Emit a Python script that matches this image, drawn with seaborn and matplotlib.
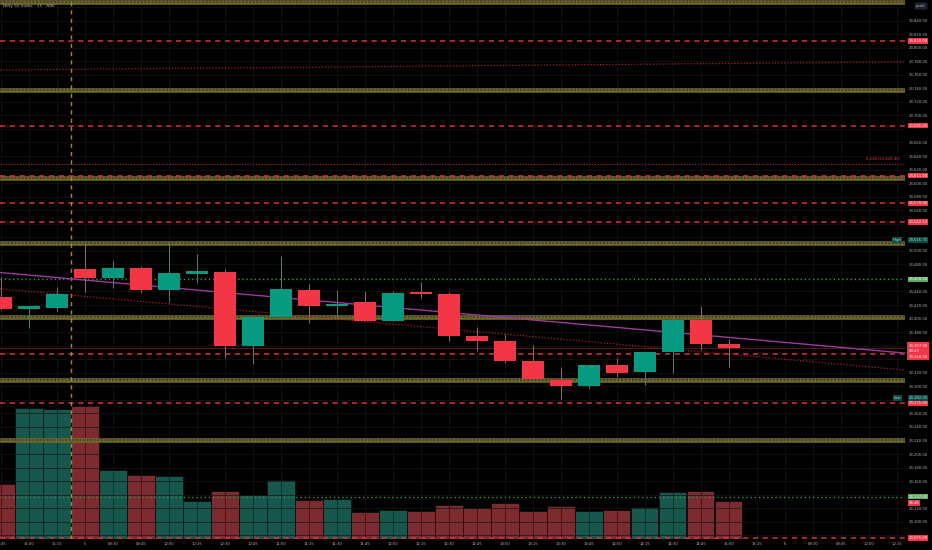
import numpy as np
import pandas as pd
import matplotlib
matplotlib.use("Agg")
import matplotlib.pyplot as plt
import seaborn as sns
from matplotlib.transforms import blended_transform_factory

# 15 min candles, Nifty 50
times = ["14:45", "15:00", "15:15", "5", "09:30", "09:45", "10:00", "10:15", "10:30",
         "10:45", "11:00", "11:15", "11:30", "11:45", "12:00", "12:15", "12:30", "12:45",
         "13:00", "13:15", "13:30", "13:45", "14:00", "14:15", "14:30", "14:45", "15:00"]
future_times = ["15:15", "6", "09:30", "09:45", "10:00", "10:15"]

opens = [23432, 23414, 23416, 23473, 23460, 23474, 23442, 23466, 23469, 23360, 23403, 23442, 23418,
         23424, 23397, 23439, 23436, 23374, 23367, 23338, 23310, 23301, 23331, 23321, 23351, 23398, 23363]
highs = [23462, 23419, 23446, 23515, 23485, 23477, 23512, 23496, 23473, 23402, 23493, 23451, 23442,
         23440, 23440, 23454, 23439, 23388, 23377, 23361, 23329, 23331, 23342, 23351, 23405, 23418, 23370]
lows = [23412, 23386, 23411, 23439, 23445, 23439, 23424, 23453, 23342, 23333, 23403, 23393, 23401,
        23396, 23396, 23431, 23367, 23352, 23335, 23311, 23282, 23297, 23314, 23302, 23319, 23354, 23328]
closes = [23414, 23418, 23437, 23460, 23475, 23442, 23468, 23470, 23360, 23402, 23443, 23418, 23422,
          23397, 23438, 23436, 23374, 23367, 23337, 23311, 23301, 23331, 23320, 23351, 23398, 23362, 23357]
volume = [55, 131, 130, 133.5, 69.5, 64.5, 63, 38, 48, 44, 59, 39.5, 40.5, 27, 29, 28, 34, 31,
          36, 28, 33, 28, 29, 32, 47, 48, 38]

# drawn levels
red_levels = [23810, 23685, 23611, 23570, 23542.5, 23348, 23275, 23076]
green_levels = [23458, 23137]
band_levels = [23868, 23738, 23608, 23512, 23402, 23309, 23221]
fib_level = 23628.40
fib_text = "0.236 (23,628.40)"
session_break = 2.5
volume_tag = ("38.4K", 23128)

# trendlines: anchor slots and prices
trend_slots = [-0.04, 32.3]
purple_trend = [23468, 23349]
red_trend_low = [23444, 23324]
red_trend_high = [23767, 23779]

GREEN = "#089981"
RED = "#f23645"
GREY = "#b2b5be"
FS = 2.7

sns.set_theme(style="dark", rc={"axes.facecolor": "black", "figure.facecolor": "black"})
plt.rcParams["font.family"] = ["DejaVu Sans"]

fig = plt.figure(figsize=(9.32, 5.5), dpi=100, facecolor="black")
ax = fig.add_axes([0, 11 / 550, 905 / 932, 539 / 550])
axv = ax.twinx()
ax.set_zorder(axv.get_zorder() + 1)
ax.patch.set_visible(False)
axv.patch.set_facecolor("black")

n = len(times)
slots = np.arange(n)
up = np.array(closes) >= np.array(opens)

df = pd.DataFrame({"slot": slots, "vol": volume, "dir": np.where(up, "up", "down")})
sns.barplot(data=df, x="slot", y="vol", hue="dir", ax=axv, native_scale=True, dodge=False,
            width=0.97, palette={"up": "#17574d", "down": "#7b2c30"}, saturation=1,
            edgecolor="#0b0b0b", linewidth=0.6, legend=False, errorbar=None)
axv.set_ylim(0, max(volume) * 4.04)
axv.set_yticks([])
axv.set_ylabel("")
axv.set_xlabel("")
for s in axv.spines.values():
    s.set_visible(False)

# levels
for p in band_levels:
    ax.axhline(p, color="#6d6a22", lw=3.3, zorder=1.5)
    ax.axhline(p, color="#41384a", lw=1.3, ls=(0, (1, 1)), zorder=1.6)
for p in red_levels:
    ax.axhline(p, color="#d93340", lw=1.1, ls=(0, (3.4, 3)), zorder=2)
for p in green_levels:
    ax.axhline(p, color="#3f8f46", lw=1.0, ls=(0, (1, 2)), zorder=2)
ax.axhline(fib_level, color="#a32530", lw=0.8, ls=(0, (1, 1.5)), zorder=2)
ax.axhline(closes[-1], color="#5a1a20", lw=0.7, zorder=1.4)
ax.axvline(session_break, color="#c87a20", lw=1.0, ls=(0, (3, 3)), zorder=2)

ax.plot(trend_slots, purple_trend, color="#9b3a9b", lw=1.0, zorder=2.5)
ax.plot(trend_slots, red_trend_low, color="#a3202c", lw=0.9, ls=(0, (1, 1.5)), zorder=2.5)
ax.plot(trend_slots, red_trend_high, color="#a3202c", lw=0.9, ls=(0, (1, 1.5)), zorder=2.5)

# candles
colors = [GREEN if u else RED for u in up]
ax.vlines(slots, lows, highs, colors=colors, lw=0.8, zorder=3)
body_lo = np.minimum(opens, closes)
body_h = np.maximum(np.abs(np.array(closes) - np.array(opens)), 1.2)
ax.bar(slots, body_h, bottom=body_lo, width=0.78, color=colors, linewidth=0, zorder=3.5)

ax.set_xlim(-0.036, 32.29)
ax.set_ylim(23074.6, 23870.3)

all_times = times + future_times
ax.set_xticks(np.arange(len(all_times)))
ax.set_xticklabels(all_times)

# price scale labels, hidden where a tag covers them
tag_prices = ([p for p in red_levels if p != 23348] + green_levels
              + [volume_tag[1], max(highs) + 1, min(lows)])
yt = np.arange(23080, 23861, 20)
ax.set_yticks(yt)
labels = []
for v in yt:
    covered = any(abs(v - p) < 7 for p in tag_prices)
    covered = covered or (closes[-1] - 19 < v < closes[-1] + 9) or v > 23850
    labels.append("" if covered else f"{v:,.2f}")
ax.set_yticklabels(labels)
ax.yaxis.tick_right()
ax.tick_params(axis="x", labelsize=FS, colors=GREY, pad=2.2, length=0)
ax.tick_params(axis="y", labelsize=FS, colors=GREY, pad=3, length=0)
ax.grid(True, color="#151515", lw=0.5)
for s in ax.spines.values():
    s.set_visible(False)

trans = blended_transform_factory(ax.transAxes, ax.transData)


def tag(price, text, fc, tc="white", x=1.004, ha="left"):
    ax.text(x, price, text, transform=trans, fontsize=FS, color=tc, va="center", ha=ha,
            bbox=dict(boxstyle="square,pad=0.18", fc=fc, ec="none"), clip_on=False, zorder=10)


for p in red_levels:
    if p != 23348:
        tag(p, f"{p:,.2f}", RED)
for p in green_levels:
    tag(p, f"{p:,.2f}", "#5aad62")
tag(volume_tag[1], volume_tag[0], RED)
tag(max(highs) + 1, f"{max(highs) + 1.75:,.2f}", "#0e4a44", tc="#b2dfdb")
tag(max(highs) + 1, "High", "#0e4a44", tc="#b2dfdb", x=0.996, ha="right")
tag(min(lows) + 1, f"{min(lows) + 0.05:,.2f}", "#0e4a44", tc="#b2dfdb")
tag(min(lows) + 1, "Low", "#0e4a44", tc="#b2dfdb", x=0.996, ha="right")
ax.text(1.004, closes[-1] - 5, f"{closes[-1]:,.2f}\n09:43\n23,348.20", transform=trans,
        fontsize=FS, color="white", va="center", ha="left", linespacing=1.5,
        bbox=dict(boxstyle="square,pad=0.4", fc=RED, ec="none"), clip_on=False, zorder=11)
ax.text(0.994, fib_level + 4, fib_text, transform=trans, fontsize=FS, color=RED,
        va="bottom", ha="right", zorder=10)

fig.text(3 / 932, 1 - 6 / 550, "Nifty 50 Index · 15 · NSE", fontsize=3.1, color=GREY, va="center")
fig.text(921 / 932, 1 - 6 / 550, "point", fontsize=FS, color=GREY, va="center", ha="center",
         bbox=dict(boxstyle="round,pad=0.4", fc="#1e222d", ec="none"))

fig.savefig("out.png", dpi=100, facecolor="black")
